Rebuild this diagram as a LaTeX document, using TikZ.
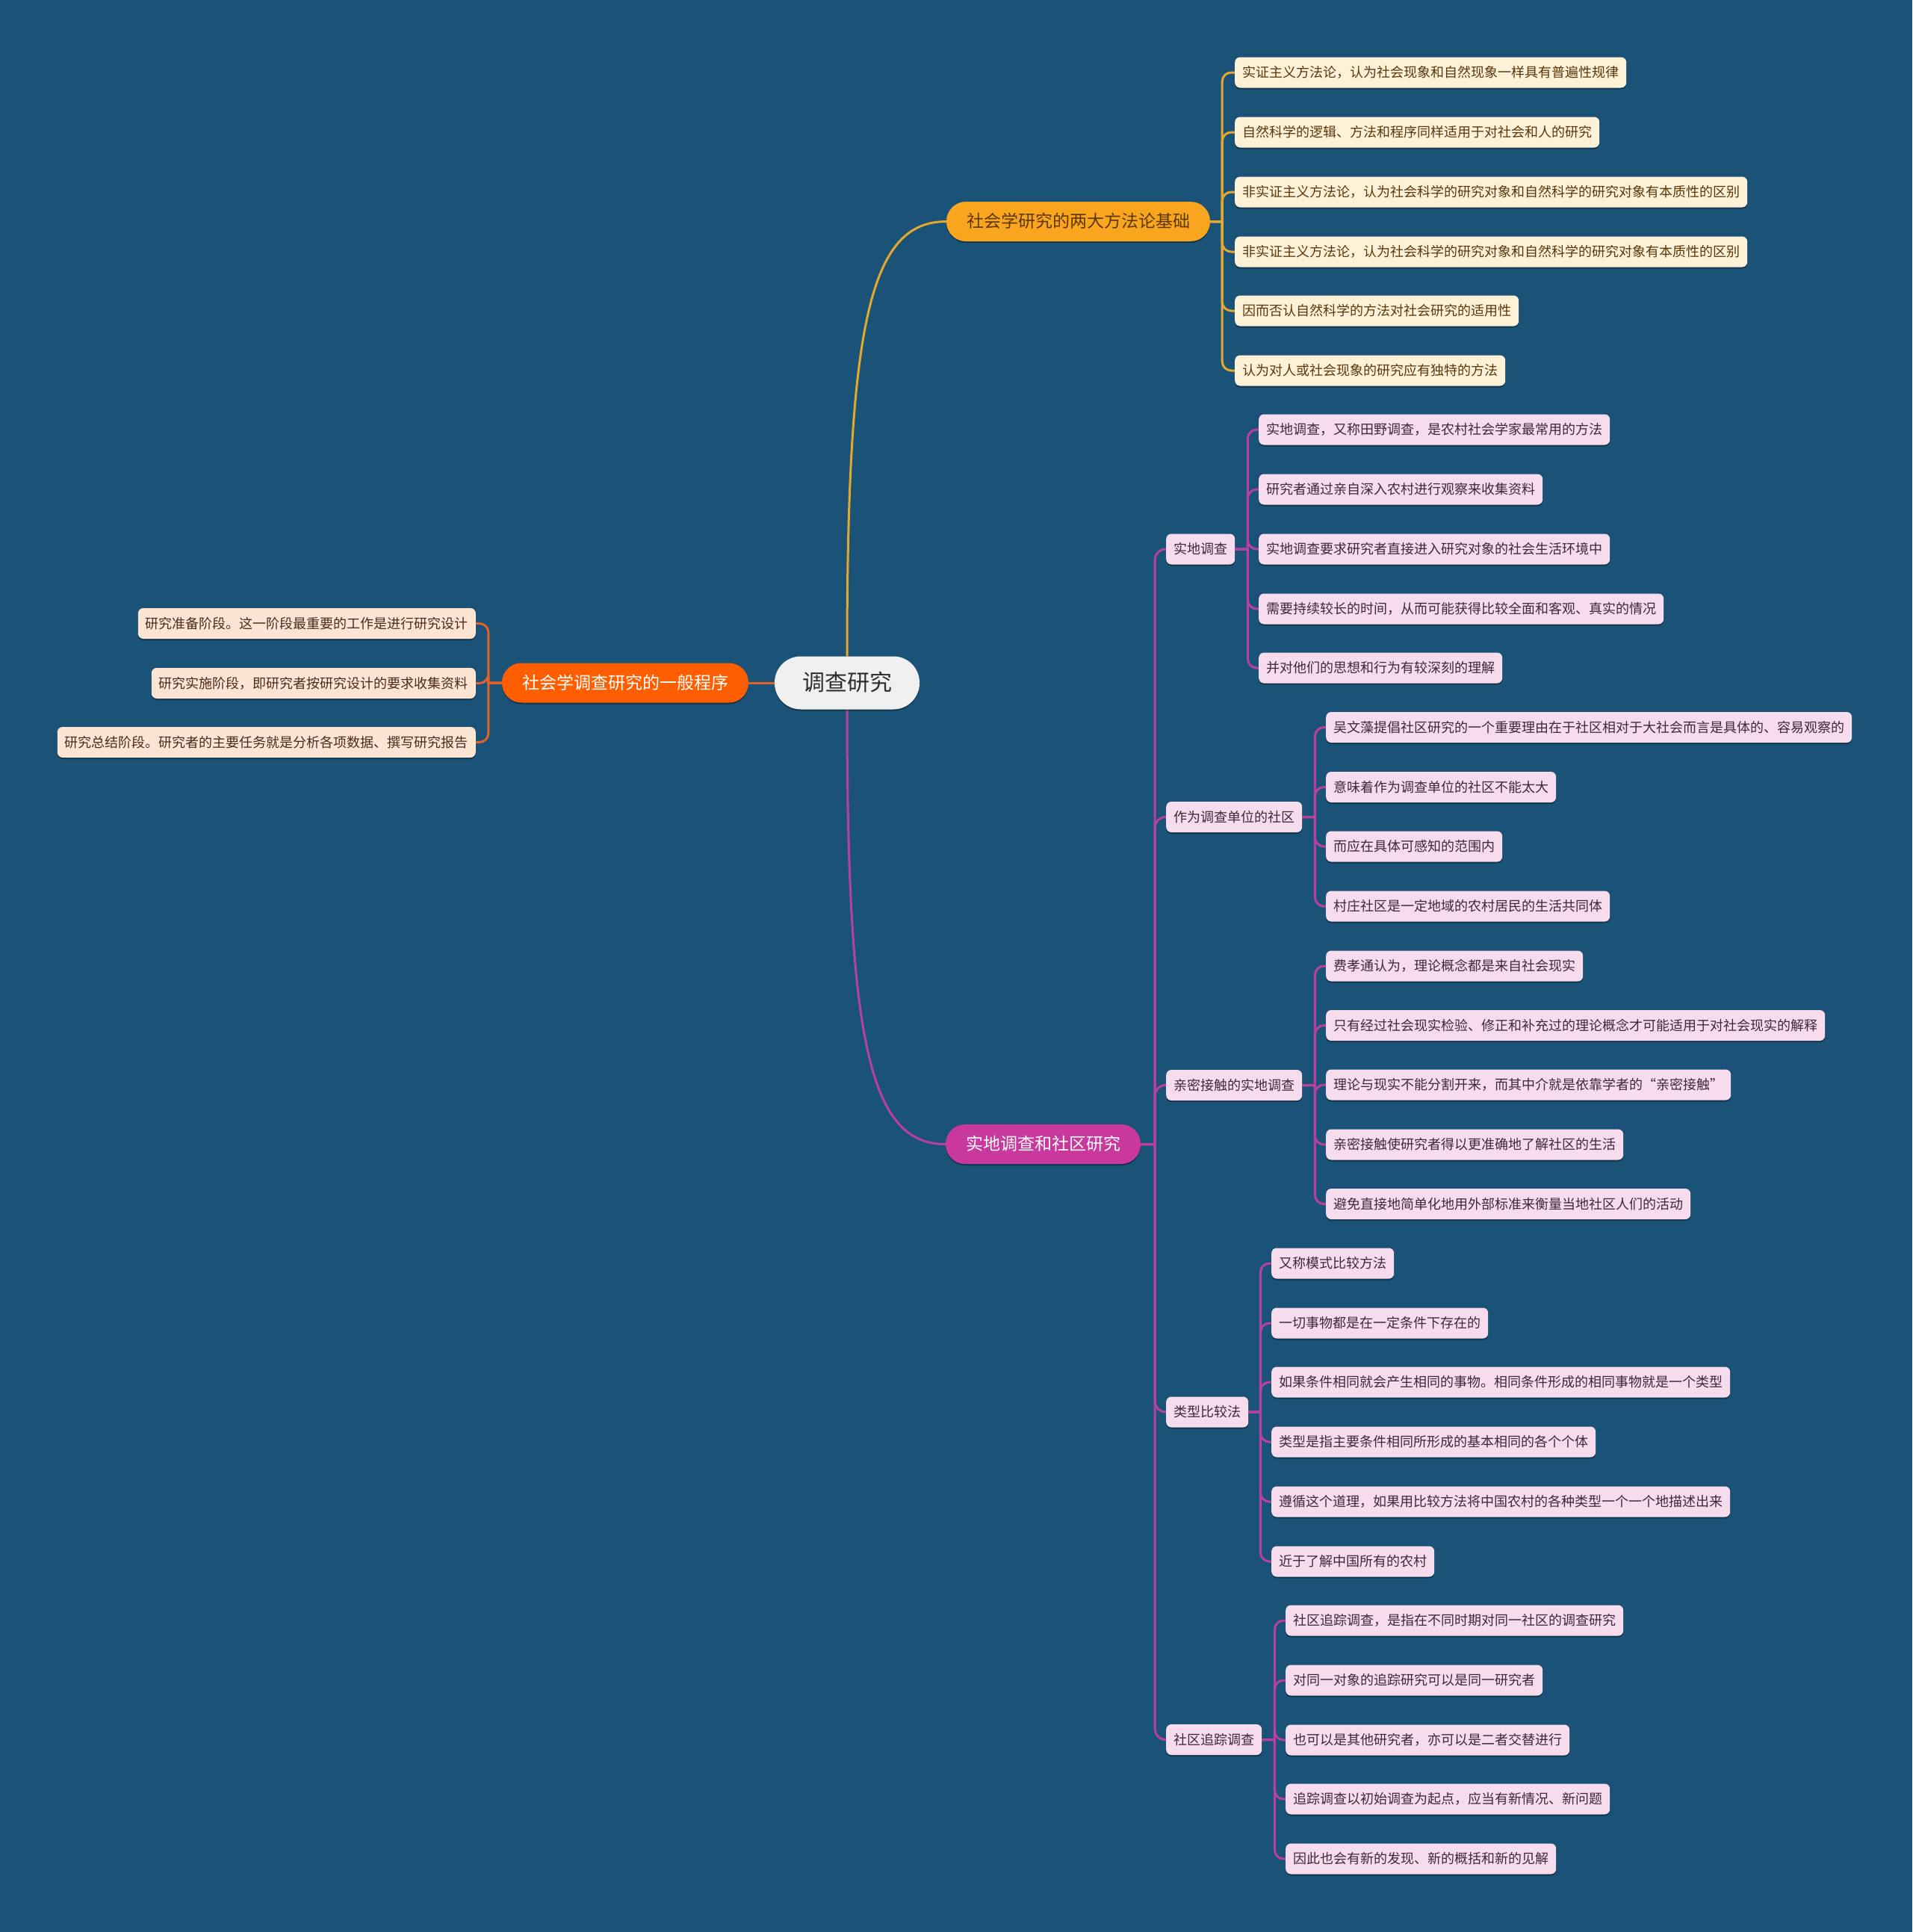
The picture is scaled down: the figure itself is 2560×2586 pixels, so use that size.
\documentclass[tikz,border=0pt]{standalone}
\usepackage{fontspec}
\newfontfamily\cjk{Noto Sans CJK SC}
\usetikzlibrary{shadows,backgrounds}
\definecolor{bg}{RGB}{26,83,119}
\definecolor{rootfill}{RGB}{240,240,240}
\definecolor{roottext}{RGB}{45,45,45}
\definecolor{Afill}{RGB}{249,166,30}
\definecolor{Atext}{RGB}{92,56,8}
\definecolor{Aline}{RGB}{229,168,46}
\definecolor{Aleaf}{RGB}{253,241,216}
\definecolor{Bfill}{RGB}{201,56,156}
\definecolor{Bline}{RGB}{183,64,160}
\definecolor{Bleaf}{RGB}{247,220,238}
\definecolor{Btext}{RGB}{62,40,58}
\definecolor{Cfill}{RGB}{255,94,0}
\definecolor{Cline}{RGB}{227,98,42}
\definecolor{Cleaf}{RGB}{253,228,211}
\definecolor{Ctext}{RGB}{74,44,26}
\begin{document}
\begin{tikzpicture}[x=1pt,y=-1pt,
  shad/.style={drop shadow={opacity=0.35,shadow xshift=0pt,shadow yshift=-2pt,fill=black}},
  base/.style={font=\cjk\fontsize{18pt}{22pt}\selectfont, rounded corners=7pt,
    minimum height=41pt, inner xsep=10pt, inner ysep=0pt, text height=15pt, text depth=2pt, shad},
  leafA/.style={base, fill=Aleaf, text=Atext, anchor=west},
  leafB/.style={base, fill=Bleaf, text=Btext, anchor=west},
  leafC/.style={base, fill=Cleaf, text=Ctext, anchor=east},
  subB/.style={base, fill=Bleaf, text=Btext, anchor=west},
  branch/.style={font=\cjk\fontsize{23pt}{27pt}\selectfont, rounded corners=26pt,
    minimum height=53pt, inner xsep=27pt, inner ysep=0pt, text height=19pt, text depth=3pt, shad},
  rootnode/.style={font=\cjk\fontsize{30pt}{34pt}\selectfont, rounded corners=35pt,
    minimum height=71pt, inner xsep=37pt, inner ysep=0pt, text height=25pt, text depth=4pt,
    fill=rootfill, text=roottext, shad},
  lnA/.style={draw=Aline, line width=3pt},
  lnB/.style={draw=Bline, line width=3pt},
  lnC/.style={draw=Cline, line width=3pt},
]
\useasboundingbox (0,0) rectangle (2560,2586);

% ---- main nodes
\node[rootnode] (root) at (1134,914) {调查研究};
\node[branch, fill=Afill, text=Atext] (A) at (1443.5,296.5) {社会学研究的两大方法论基础};
\node[branch, fill=Bfill, text=white] (B) at (1396.5,1531.5) {实地调查和社区研究};
\node[branch, fill=Cfill, text=white] (C) at (837,914) {社会学调查研究的一般程序};

% ---- A leaves
\node[leafA] (a1) at (1653,97) {实证主义方法论，认为社会现象和自然现象一样具有普遍性规律};
\node[leafA] (a2) at (1653,177) {自然科学的逻辑、方法和程序同样适用于对社会和人的研究};
\node[leafA] (a3) at (1653,257) {非实证主义方法论，认为社会科学的研究对象和自然科学的研究对象有本质性的区别};
\node[leafA] (a4) at (1653,337) {非实证主义方法论，认为社会科学的研究对象和自然科学的研究对象有本质性的区别};
\node[leafA] (a5) at (1653,416) {因而否认自然科学的方法对社会研究的适用性};
\node[leafA] (a6) at (1653,496) {认为对人或社会现象的研究应有独特的方法};

% ---- C leaves
\node[leafC] (c1) at (637,834.5) {研究准备阶段。这一阶段最重要的工作是进行研究设计};
\node[leafC] (c2) at (637,914.5) {研究实施阶段，即研究者按研究设计的要求收集资料};
\node[leafC] (c3) at (637,993.5) {研究总结阶段。研究者的主要任务就是分析各项数据、撰写研究报告};

% ---- B sub nodes
\node[subB] (s1) at (1561,735) {实地调查};
\node[subB] (s2) at (1561,1093.5) {作为调查单位的社区};
\node[subB] (s3) at (1561,1452.5) {亲密接触的实地调查};
\node[subB] (s4) at (1561,1890) {类型比较法};
\node[subB] (s5) at (1561,2328.5) {社区追踪调查};

% ---- B leaves
\node[leafB] (b11) at (1685,575) {实地调查，又称田野调查，是农村社会学家最常用的方法};
\node[leafB] (b12) at (1685,655) {研究者通过亲自深入农村进行观察来收集资料};
\node[leafB] (b13) at (1685,735) {实地调查要求研究者直接进入研究对象的社会生活环境中};
\node[leafB] (b14) at (1685,815) {需要持续较长的时间，从而可能获得比较全面和客观、真实的情况};
\node[leafB] (b15) at (1685,894) {并对他们的思想和行为有较深刻的理解};

\node[leafB] (b21) at (1775,973.5) {吴文藻提倡社区研究的一个重要理由在于社区相对于大社会而言是具体的、容易观察的};
\node[leafB] (b22) at (1775,1053.5) {意味着作为调查单位的社区不能太大};
\node[leafB] (b23) at (1775,1133) {而应在具体可感知的范围内};
\node[leafB] (b24) at (1775,1213) {村庄社区是一定地域的农村居民的生活共同体};

\node[leafB] (b31) at (1775,1293) {费孝通认为，理论概念都是来自社会现实};
\node[leafB] (b32) at (1775,1372.5) {只有经过社会现实检验、修正和补充过的理论概念才可能适用于对社会现实的解释};
\node[leafB] (b33) at (1775,1452) {理论与现实不能分割开来，而其中介就是依靠学者的“亲密接触”};
\node[leafB] (b34) at (1775,1532) {亲密接触使研究者得以更准确地了解社区的生活};
\node[leafB] (b35) at (1775,1611.5) {避免直接地简单化地用外部标准来衡量当地社区人们的活动};

\node[leafB] (b41) at (1702,1691) {又称模式比较方法};
\node[leafB] (b42) at (1702,1771) {一切事物都是在一定条件下存在的};
\node[leafB] (b43) at (1702,1850) {如果条件相同就会产生相同的事物。相同条件形成的相同事物就是一个类型};
\node[leafB] (b44) at (1702,1930) {类型是指主要条件相同所形成的基本相同的各个个体};
\node[leafB] (b45) at (1702,2010) {遵循这个道理，如果用比较方法将中国农村的各种类型一个一个地描述出来};
\node[leafB] (b46) at (1702,2090) {近于了解中国所有的农村};

\node[leafB] (b51) at (1721,2169) {社区追踪调查，是指在不同时期对同一社区的调查研究};
\node[leafB] (b52) at (1721,2249) {对同一对象的追踪研究可以是同一研究者};
\node[leafB] (b53) at (1721,2329) {也可以是其他研究者，亦可以是二者交替进行};
\node[leafB] (b54) at (1721,2408) {追踪调查以初始调查为起点，应当有新情况、新问题};
\node[leafB] (b55) at (1721,2488) {因此也会有新的发现、新的概括和新的见解};

% ---- background and connectors
\begin{pgfonlayer}{background}
\fill[bg] (0,0) rectangle (2560,2586);
\draw[lnA] (root.north) .. controls (1134,430) and (1165,296.5) .. (A.west);
\draw[lnB] (root.south) .. controls (1134,1398) and (1165,1531.5) .. (B.west);
\draw[lnC] (root.west) -- (C.east);
\foreach \c in {a1,a2,a3,a4,a5,a6}
  \draw[lnA] (A.east) -- ++(16,0) [rounded corners=12pt] |- (\c.west);
\foreach \c in {c1,c2,c3}
  \draw[lnC] (C.west) -- ++(-18,0) [rounded corners=12pt] |- (\c.east);
\foreach \c in {s1,s2,s3,s4,s5}
  \draw[lnB] (B.east) -- ++(19,0) [rounded corners=14pt] |- (\c.west);
\foreach \c in {b11,b12,b13,b14,b15}
  \draw[lnB] (s1.east) -- ++(17,0) [rounded corners=12pt] |- (\c.west);
\foreach \c in {b21,b22,b23,b24}
  \draw[lnB] (s2.east) -- ++(17,0) [rounded corners=12pt] |- (\c.west);
\foreach \c in {b31,b32,b33,b34,b35}
  \draw[lnB] (s3.east) -- ++(17,0) [rounded corners=12pt] |- (\c.west);
\foreach \c in {b41,b42,b43,b44,b45,b46}
  \draw[lnB] (s4.east) -- ++(16,0) [rounded corners=12pt] |- (\c.west);
\foreach \c in {b51,b52,b53,b54,b55}
  \draw[lnB] (s5.east) -- ++(17,0) [rounded corners=12pt] |- (\c.west);
\end{pgfonlayer}

\end{tikzpicture}
\end{document}
